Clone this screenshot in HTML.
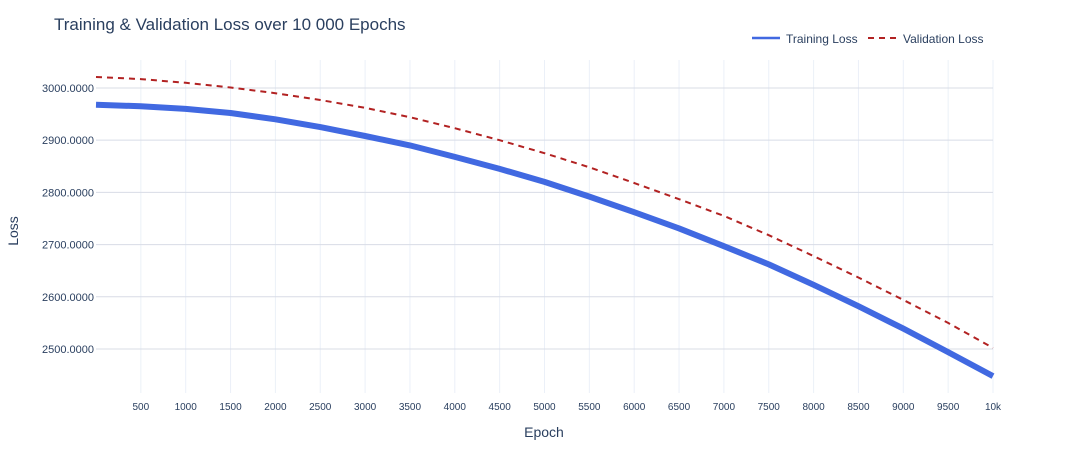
<!DOCTYPE html>
<html><head><meta charset="utf-8"><style>
body{margin:0;background:#fff;font-family:"Liberation Sans",sans-serif;}
svg text{font-family:"Liberation Sans",sans-serif;fill:#2a3f5f;}
</style></head><body>
<svg id="chart" width="1073" height="450" xmlns="http://www.w3.org/2000/svg">
<rect width="1073" height="450" fill="#fff"/>
<text x="54" y="30" font-size="17">Training &amp; Validation Loss over 10 000 Epochs</text>
<g id="grid"></g>
<g id="series"></g>
<g>
<line x1="752" y1="38" x2="780" y2="38" stroke="#4169e1" stroke-width="2.5"/>
<text x="786" y="43" font-size="12">Training Loss</text>
<line x1="868" y1="38" x2="896" y2="38" stroke="#b22222" stroke-width="2" stroke-dasharray="6,5"/>
<text x="903" y="43" font-size="12">Validation Loss</text>
</g>
<text x="544" y="437" font-size="14" text-anchor="middle">Epoch</text>
<text x="18" y="231" font-size="14" text-anchor="middle" transform="rotate(-90 18 231)">Loss</text>
</svg>
<script>
const epochs=[0,500,1000,1500,2000,2500,3000,3500,4000,4500,5000,5500,6000,6500,7000,7500,8000,8500,9000,9500,10000];
const trainLoss=[2968,2965,2960,2952,2940,2925,2908,2890,2868,2845,2820,2792,2762,2731,2697,2662,2623,2582,2539,2494,2448];
const valLoss=[3021,3017,3010,3001,2990,2977,2962,2944,2923,2900,2875,2848,2818,2787,2755,2718,2678,2637,2594,2550,2502];
const xTicks=[500,1000,1500,2000,2500,3000,3500,4000,4500,5000,5500,6000,6500,7000,7500,8000,8500,9000,9500,10000];
const xTickLabels=["500","1000","1500","2000","2500","3000","3500","4000","4500","5000","5500","6000","6500","7000","7500","8000","8500","9000","9500","10k"];
const yTicks=[2500,2600,2700,2800,2900,3000];
const NS="http://www.w3.org/2000/svg";
const L=96,R=993,T=60,B=393;
const xMin=0,xMax=10000,yMin=2415.7,yMax=3053.6;
const sx=v=>L+(v-xMin)/(xMax-xMin)*(R-L);
const sy=v=>B-(v-yMin)/(yMax-yMin)*(B-T);
const grid=document.getElementById('grid'),series=document.getElementById('series');
function mk(tag,attrs,parent){const e=document.createElementNS(NS,tag);for(const k in attrs)e.setAttribute(k,attrs[k]);parent.appendChild(e);return e;}
xTicks.forEach((t,i)=>{
  const l=mk('line',{x1:sx(t),x2:sx(t),y1:T,y2:B,stroke:'#ebf0f8','stroke-width':1},grid);
  
  
  const tx=mk('text',{x:sx(t),y:410,'font-size':10,'text-anchor':'middle'},grid);
  tx.textContent=xTickLabels[i];
  
  
});
yTicks.forEach(t=>{
  const l=mk('line',{x1:L,x2:R,y1:sy(t),y2:sy(t),stroke:'#d8dce6','stroke-width':1},grid);
  
  
  const tx=mk('text',{x:L-2,y:sy(t)+4,'font-size':11,'text-anchor':'end'},grid);
  tx.textContent=t.toFixed(4);
  
  
});
const pts=a=>a.map((v,i)=>sx(epochs[i]).toFixed(1)+','+sy(v).toFixed(1)).join(' ');
const tl=mk('polyline',{points:pts(trainLoss),fill:'none',stroke:'#4169e1','stroke-width':6,'stroke-linejoin':'round'},series);


const vl=mk('polyline',{points:pts(valLoss),fill:'none',stroke:'#b22222','stroke-width':2,'stroke-dasharray':'6,5'},series);


</script>
</body></html>
